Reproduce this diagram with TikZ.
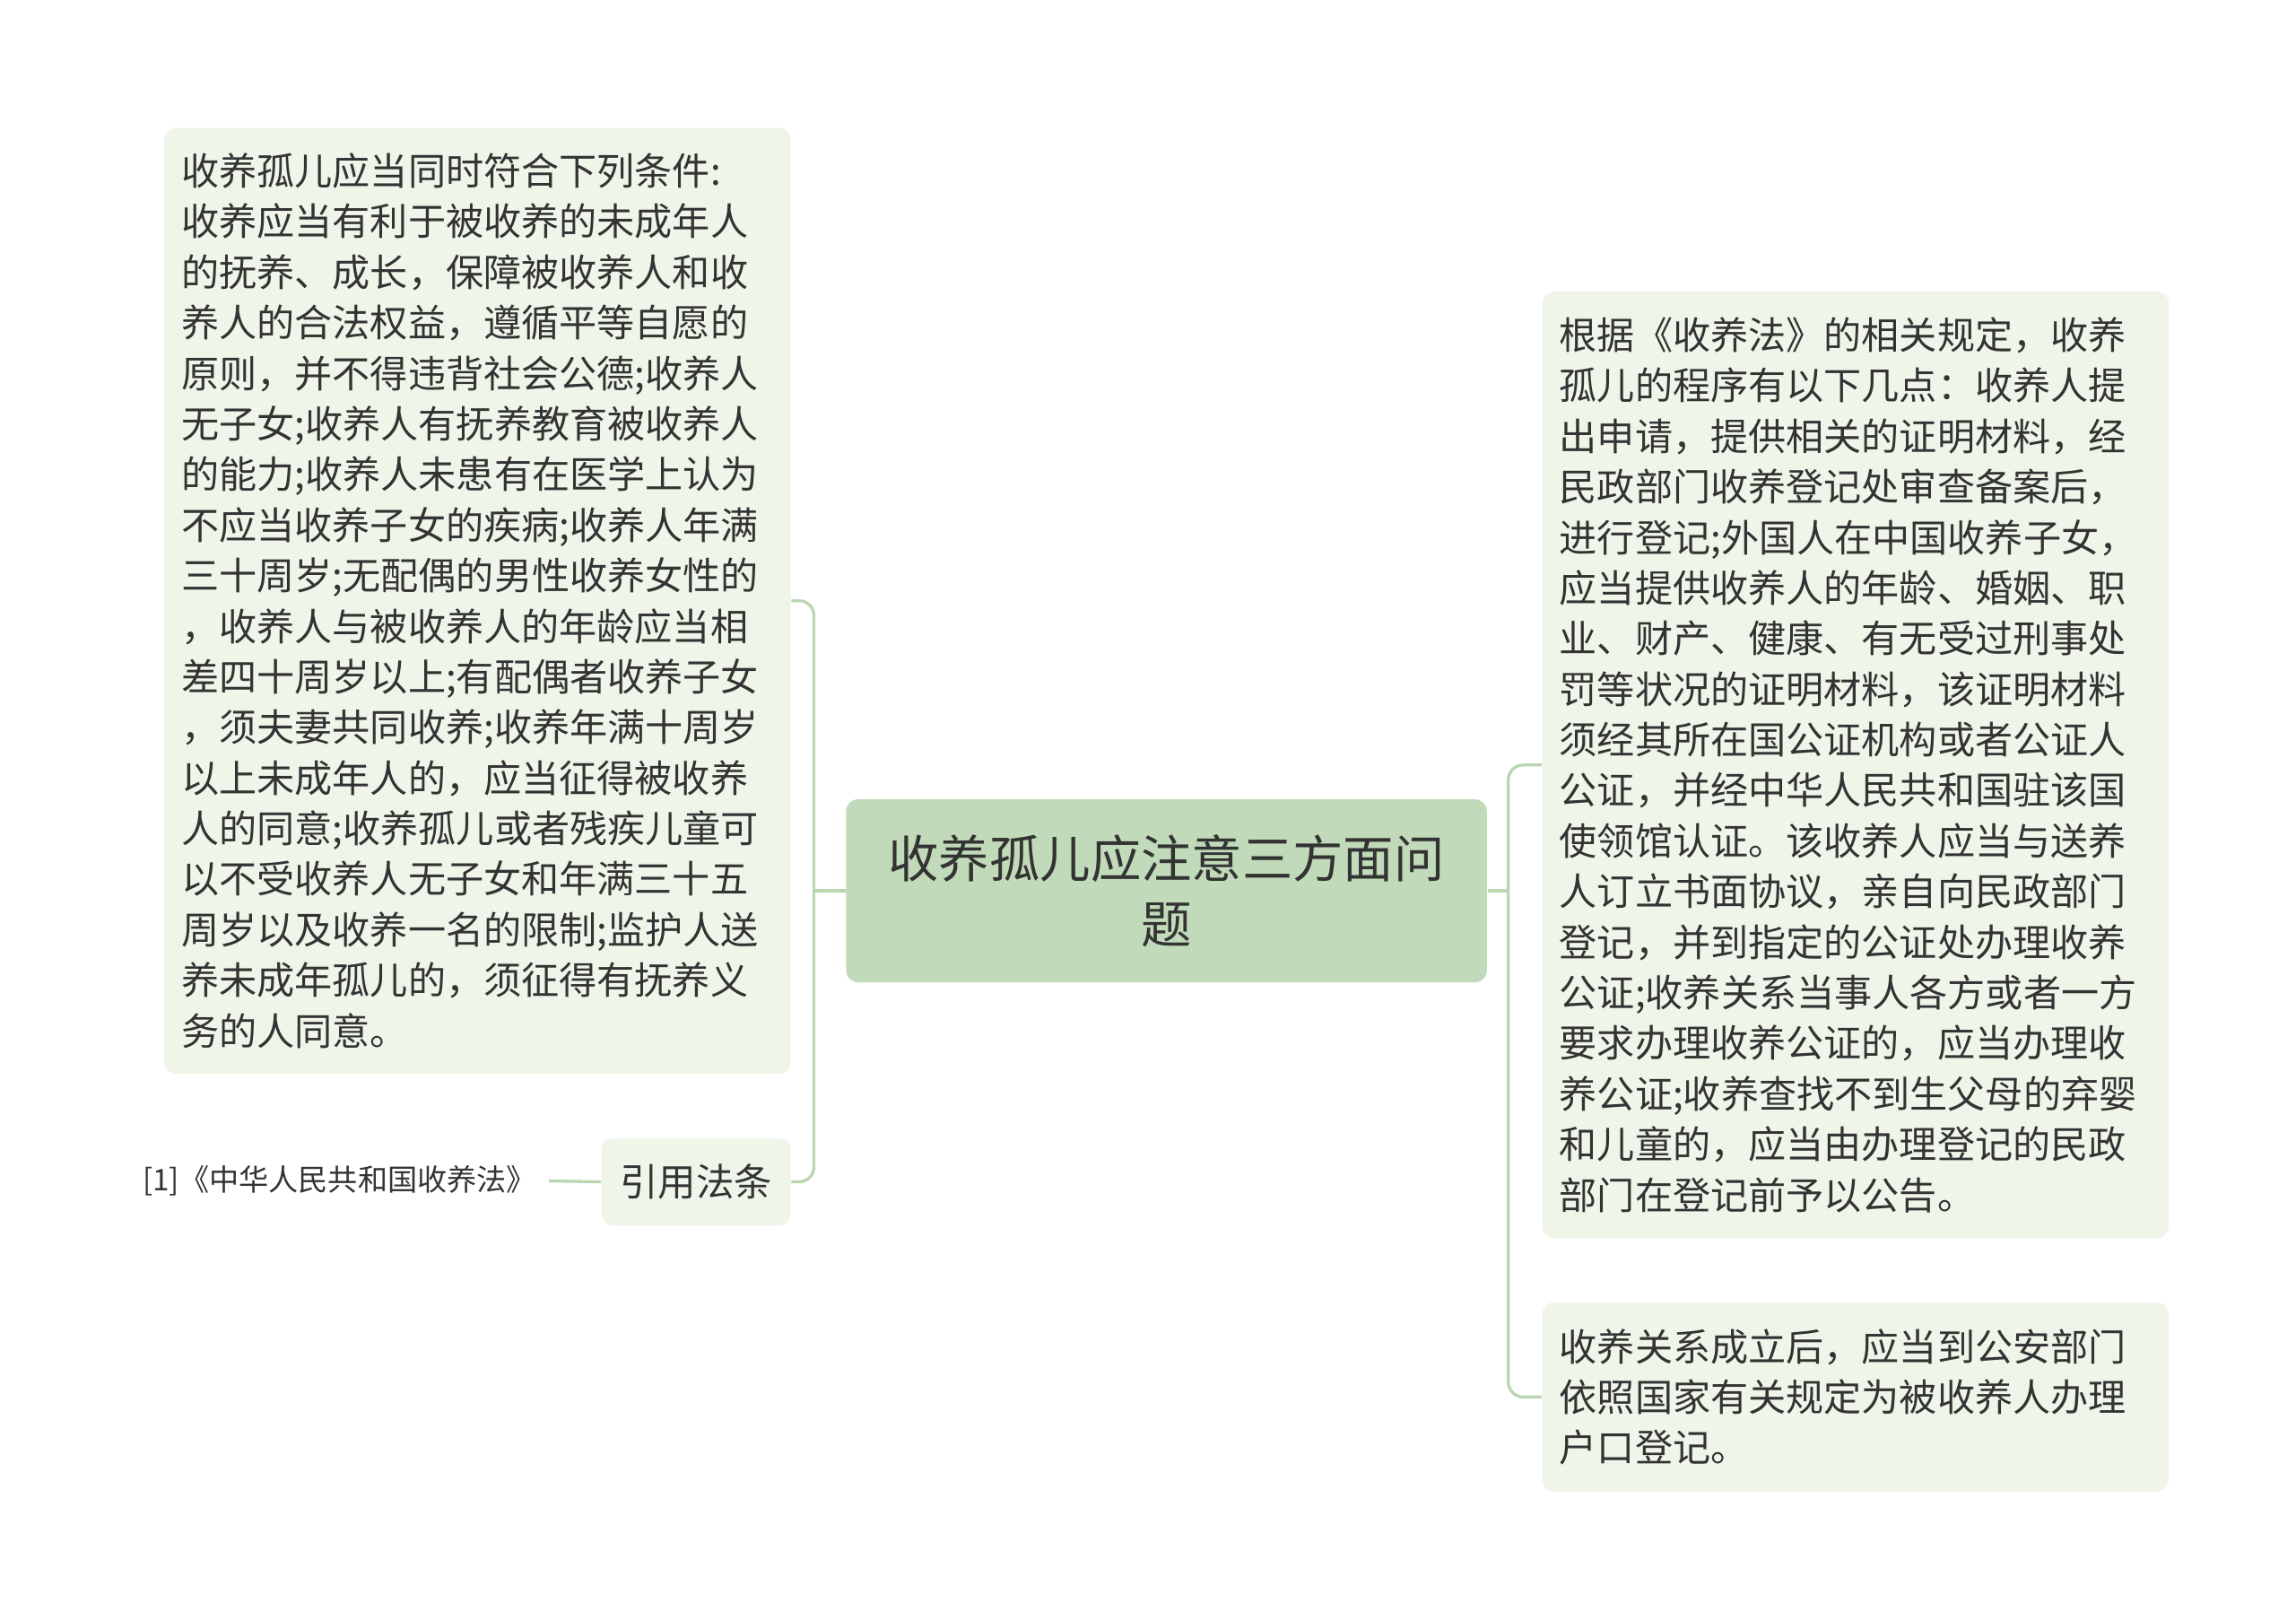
\documentclass[tikz,border=0pt]{standalone}
\usepackage{fontspec}
\setmainfont{Noto Sans CJK SC}
\usepackage{color}
\definecolor{leaffill}{HTML}{EFF6E9}
\definecolor{rootfill}{HTML}{C1DAB9}
\definecolor{linkgreen}{HTML}{BAD6B0}
\definecolor{inkgray}{HTML}{333333}

\begin{document}
\begin{tikzpicture}[x=0.3pt,y=-0.3pt,
        leaf/.style={fill=leaffill,rounded corners=4pt,text=inkgray,align=left,
            inner xsep=5.5pt,text width=199pt,minimum width=210.6pt,
            font=\fontsize{12.7}{17}\selectfont},
        root/.style={fill=rootfill,rounded corners=4pt,text=inkgray,align=center,
            minimum width=215.4pt,minimum height=61.5pt,
            font=\fontsize{17}{22.2}\selectfont},
        link/.style={draw=linkgreen,line width=1pt,rounded corners=5pt}]
                \useasboundingbox (0,0) rectangle (2572.6,1813.9);
                % centre topic
                \node[root] (root) at (1307,998) {收养孤儿应注意三方面问\\题};
                % left side
                \node[leaf,minimum height=318pt] (cond) at (535,673) {收养孤儿应当同时符合下列条件:\\
                    收养应当有利于被收养的未成年人\\
                    的抚养、成长，保障被收养人和收\\
                    养人的合法权益，遵循平等自愿的\\
                    原则，并不得违背社会公德;收养人\\
                    无子女;收养人有抚养教育被收养人\\
                    的能力;收养人未患有在医学上认为\\
                    不应当收养子女的疾病;收养人年满\\
                    三十周岁;无配偶的男性收养女性的\\
                    ，收养人与被收养人的年龄应当相\\
                    差四十周岁以上;有配偶者收养子女\\
                    ，须夫妻共同收养;收养年满十周岁\\
                    以上未成年人的，应当征得被收养\\
                    人的同意;收养孤儿或者残疾儿童可\\
                    以不受收养人无子女和年满三十五\\
                    周岁以及收养一名的限制;监护人送\\
                    养未成年孤儿的，须征得有抚养义\\
                    务的人同意。};
                \node[fill=leaffill,rounded corners=4pt,text=inkgray,minimum width=63.6pt,
                    minimum height=29.4pt,font=\fontsize{12.8}{15}\selectfont] (cite) at (780,1324) {引用法条};
                \node[anchor=east,inner xsep=4pt,text=inkgray,font=\fontsize{10}{12}\selectfont]
                    (law) at (615,1323) {[1]《中华人民共和国收养法》};
                % right side
                \node[leaf,minimum height=318.3pt] (proc) at (2079,857) {根据《收养法》的相关规定，收养\\
                    孤儿的程序有以下几点：收养人提\\
                    出申请，提供相关的证明材料，经\\
                    民政部门收养登记处审查备案后，\\
                    进行登记;外国人在中国收养子女，\\
                    应当提供收养人的年龄、婚姻、职\\
                    业、财产、健康、有无受过刑事处\\
                    罚等状况的证明材料，该证明材料\\
                    须经其所在国公证机构或者公证人\\
                    公证，并经中华人民共和国驻该国\\
                    使领馆认证。该收养人应当与送养\\
                    人订立书面协议，亲自向民政部门\\
                    登记，并到指定的公证处办理收养\\
                    公证;收养关系当事人各方或者一方\\
                    要求办理收养公证的，应当办理收\\
                    养公证;收养查找不到生父母的弃婴\\
                    和儿童的，应当由办理登记的民政\\
                    部门在登记前予以公告。};
                \node[leaf,minimum height=63.6pt] (hukou) at (2079,1565) {收养关系成立后，应当到公安部门\\
                    依照国家有关规定为被收养人办理\\
                    户口登记。};
                % connectors
                \coordinate (lbar) at (912,998);
                \coordinate (rbar) at (1690,998);
                \draw[link] (root.west) -- (lbar);
                \draw[link] (cond.east) -| (lbar) |- (cite.east);
                \draw[link] (cite.west) -- (law.east);
                \draw[link] (root.east) -- (rbar);
                \draw[link] (proc.west) -| (rbar) |- (hukou.west);
            \end{tikzpicture}
\end{document}
